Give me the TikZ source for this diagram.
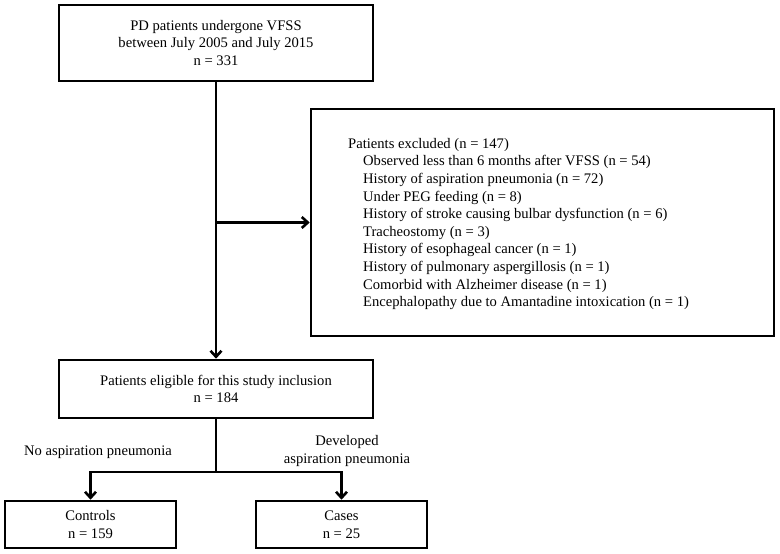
\documentclass[tikz,border=0pt]{standalone}
\usepackage{fontspec}
\setmainfont{Liberation Serif}
\usetikzlibrary{arrows.meta}
\tikzset{
  flowbox/.style = 	{shape=rectangle, draw, line width=2.6pt,
				align=center, inner sep=0pt},
  flowline/.style = 	{draw, line width=2.6pt},
  flowarrow/.style = 	{flowline, -{Straight Barb[length=6pt,width=11pt]}},
  branchtext/.style = 	{align=center, inner sep=0pt},
}
\newcommand{\exclindent}{\hspace*{15pt}}

\begin{document}
\begin{tikzpicture}
	[
		x                  = 1pt,
		y                  = -1pt,
		every node/.style  = {font=\fontsize{14.6}{17.6}\selectfont}
	]
	\useasboundingbox (0,0) rectangle (780,554);
	% boxes
	\node [flowbox, minimum width=314pt, minimum height=76pt] (source) at (216,43)
		{PD patients undergone VFSS\\between July 2005 and July 2015\\n = 331};
	\node [flowbox, minimum width=463pt, minimum height=227pt] (excluded) at (542.5,222.5) {};
	\node [anchor=west, align=left, inner sep=0pt] (excludedlist) at (348,224)
		{Patients excluded (n = 147)\\
		\exclindent Observed less than 6 months after VFSS (n = 54)\\
		\exclindent History of aspiration pneumonia (n = 72)\\
		\exclindent Under PEG feeding (n = 8)\\
		\exclindent History of stroke causing bulbar dysfunction (n = 6)\\
		\exclindent Tracheostomy (n = 3)\\
		\exclindent History of esophageal cancer (n = 1)\\
		\exclindent History of pulmonary aspergillosis (n = 1)\\
		\exclindent Comorbid with Alzheimer disease (n = 1)\\
		\exclindent Encephalopathy due to Amantadine intoxication (n = 1)};
	\node [flowbox, minimum width=314pt, minimum height=58pt] (eligible) at (216,389)
		{Patients eligible for this study inclusion\\n = 184};
	\node [flowbox, minimum width=171pt, minimum height=47pt] (controls) at (90.5,524.5)
		{Controls\\n = 159};
	\node [flowbox, minimum width=171pt, minimum height=47pt] (cases) at (341.5,524.5)
		{Cases\\n = 25};
	% branch labels
	\node [branchtext] (nolabel) at (98,452) {No aspiration pneumonia};
	\node [branchtext] (yeslabel) at (347,451) {Developed\\aspiration pneumonia};
	% connectors
	\coordinate (split) at (216,472);
	\draw [flowarrow] (source) -- (eligible);
	\draw [flowarrow] (source.south |- excluded.west) -- (excluded.west);
	\draw [flowline] (eligible) -- (split);
	\draw [flowarrow] (split) -| (controls.north);
	\draw [flowarrow] (split) -| (cases.north);
\end{tikzpicture}
\end{document}
